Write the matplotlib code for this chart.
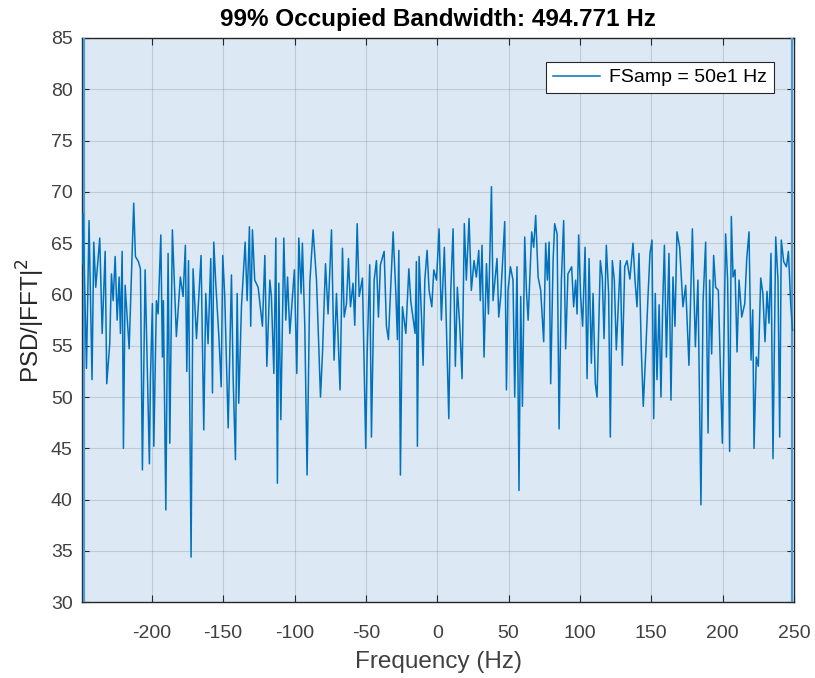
import matplotlib
matplotlib.use("Agg")
import matplotlib.pyplot as plt

plt.rcParams['font.family'] = ['Liberation Sans', 'DejaVu Sans']
plt.rcParams['axes.unicode_minus'] = False

# ---- data ----
freq = [
    -248.6, -248.2, -245.8, -244.0, -241.9, -240.7, -239.3, -236.5, -234.8, -232.7,
    -231.6, -229.5, -228.3, -227.1, -225.7, -224.3, -222.9, -222.0, -220.8, -219.9,
    -218.7, -215.9, -212.7, -211.5, -209.4, -208.0, -206.6, -204.7, -201.7, -201.0,
    -199.6, -198.6, -196.8, -195.6, -193.7, -192.6, -191.9, -190.2, -188.6, -187.4,
    -185.6, -183.9, -182.8, -180.0, -178.1, -176.5, -175.5, -174.3, -172.5, -171.1,
    -168.7, -165.5, -163.6,
    -162.2, -160.6, -158.7, -157.5, -156.6, -155.2, -152.9, -151.4, -150.3, -148.9,
    -146.5, -144.2, -143.0, -141.4, -140.2, -139.1, -137.2, -134.6, -133.2, -131.6,
    -130.7, -129.5, -127.9, -125.5, -122.5, -120.8, -119.4, -117.3, -116.2, -114.5,
    -113.1, -112.0, -111.0, -109.6, -107.5, -106.1, -104.9, -103.3, -100.1, -98.4,
    -97.0, -95.4, -94.5, -92.8, -91.2, -89.3, -87.0, -84.6, -81.8,
    -80.4, -78.3, -76.5, -74.1, -72.3, -70.6, -68.1, -66.4, -65.2, -63.6,
    -62.2, -60.8, -59.0, -57.8, -56.1, -54.7, -52.4, -50.1, -49.1, -47.3,
    -46.1, -44.2, -42.6, -41.2, -39.8, -37.2, -35.6, -34.2, -30.9, -29.0,
    -27.9, -26.9, -25.8, -24.4, -22.0, -19.9, -18.5, -15.5, -14.6, -13.9,
    -12.7, -11.1, -9.9, -8.7, -7.1, -5.7, -3.8, -2.4, -0.5, 1.3,
    2.9, 5.0, 8.1, 9.5, 11.1, 12.7, 14.1, 15.8, 17.4, 19.0,
    20.4, 22.3, 23.9, 25.8, 27.4, 29.1, 30.2, 31.4, 32.8, 34.5,
    35.9, 38.0, 39.1, 41.9, 43.1, 44.5, 47.3, 48.5, 49.6, 51.3,
    53.1, 54.3, 55.9, 57.3, 58.5, 59.7, 61.3, 62.5, 63.7, 66.2,
    67.6, 69.0, 70.7, 72.5, 74.6, 76.0, 77.2, 78.4, 79.5, 81.2,
    82.3, 84.0, 85.4, 87.0, 88.6,
    90.0, 91.6, 94.2, 95.6, 97.0, 98.0, 99.1, 100.5, 101.9, 103.6,
    105.0, 106.4, 108.0, 109.2, 110.8, 112.0, 114.3, 115.7, 116.9, 118.5,
    120.1, 121.3, 122.7, 124.1, 125.5, 128.3, 129.7, 131.4, 133.0, 135.0,
    137.2, 138.6, 140.0, 141.4, 143.0, 144.4, 146.0, 147.7, 149.1, 150.5,
    151.7, 152.8, 154.0, 155.5, 156.8, 158.0, 159.2, 160.6, 162.4, 163.8,
    165.2, 166.6, 168.0,
    169.9, 172.2, 174.1, 176.4, 178.8, 180.9, 182.7, 184.8, 186.3, 188.1,
    189.8, 190.9, 192.3, 193.7, 195.1, 197.0, 199.8, 202.1, 203.5, 204.9,
    206.1, 207.3, 208.7, 210.1, 211.5, 213.4, 215.5, 216.9, 218.5, 219.9,
    221.1, 222.0, 223.6, 225.0, 226.7, 228.2, 229.7, 231.1, 232.5, 233.9,
    235.3, 237.2, 238.8, 240.0, 241.1, 242.8, 244.7, 246.1, 247.7, 249.0,
]
psd = [
    63.0, 67.9, 52.8, 67.2, 51.7, 65.1, 60.7, 65.5, 56.2, 64.2,
    51.3, 55.2, 62.0, 59.4, 63.7, 57.5, 61.7, 56.2, 64.2, 45.0,
    60.9, 54.7, 68.9, 63.7, 63.2, 62.5, 42.9, 62.4, 43.5, 51.7,
    59.1, 45.2, 59.4, 58.1, 65.8, 53.9, 59.4, 39.0, 64.0, 45.5,
    66.3, 60.1, 55.9, 61.7, 59.8, 64.8, 52.5, 63.3, 34.4, 62.5,
    55.7, 63.8, 46.8,
    60.1, 55.2, 63.5, 50.4, 65.1, 61.1, 55.6, 51.0, 63.8, 59.8,
    47.0, 61.9, 51.7, 43.9, 60.1, 49.4, 58.8, 65.1, 59.4, 66.6,
    56.9, 66.3, 61.4, 60.7, 56.9, 63.8, 53.0, 61.4, 59.8, 52.3,
    65.5, 41.6, 61.1, 47.8, 65.5, 57.5, 61.7, 56.2, 62.4, 52.3,
    65.5, 60.1, 65.0, 56.9, 42.4, 61.1, 66.3, 61.4, 50.0,
    54.3, 63.0, 58.1, 66.3, 53.6, 60.1, 50.7, 64.5, 57.8, 59.1,
    63.5, 58.8, 61.1, 57.0, 66.9, 59.8, 61.6, 45.0, 54.3, 62.9,
    46.1, 61.4, 63.3, 57.8, 62.9, 64.2, 56.9, 55.6, 66.1, 60.1,
    55.6, 64.3, 42.4, 58.8, 56.2, 62.5, 59.3, 56.2, 63.2, 45.2,
    63.7, 58.1, 53.1, 61.4, 64.3, 60.4, 58.8, 62.4, 61.4, 66.4,
    57.5, 64.6, 47.9, 60.4, 66.4, 53.0, 60.7, 56.9, 51.8, 66.9,
    61.4, 67.4, 60.4, 63.3, 61.7, 64.3, 59.4, 64.8, 53.9, 63.0,
    58.1, 70.5, 59.4, 63.5, 57.8, 59.8, 67.1, 50.7, 60.4, 62.7,
    61.4, 50.0, 62.7, 40.9, 59.8, 49.1, 65.6, 60.4, 57.5, 66.1,
    64.6, 67.7, 61.7, 60.4, 55.4, 65.0, 61.4, 65.1, 51.3, 63.3,
    66.9, 65.9, 46.9, 61.4, 67.2,
    54.7, 62.0, 62.7, 58.8, 61.4, 58.1, 65.8, 59.8, 56.9, 64.6,
    51.8, 63.5, 53.3, 60.1, 51.3, 50.0, 63.3, 61.6, 55.7, 64.8,
    60.1, 46.1, 63.3, 61.4, 54.6, 63.3, 53.1, 62.7, 63.3, 61.5,
    65.0, 61.4, 58.8, 64.0, 54.7, 49.1, 54.0, 59.8, 64.0, 65.3,
    47.9, 60.1, 51.7, 59.0, 50.0, 59.0, 64.8, 53.9, 64.0, 49.7,
    61.7, 56.9, 66.1,
    64.6, 58.8, 60.9, 53.1, 66.4, 54.9, 61.4, 39.5, 59.4, 65.1,
    46.5, 61.4, 54.2, 63.8, 60.7, 60.4, 45.5, 65.9, 61.4, 44.7,
    67.6, 61.7, 62.4, 54.4, 61.4, 57.8, 59.1, 63.5, 66.1, 53.6,
    58.5, 45.0, 53.9, 53.0, 61.6, 60.1, 55.4, 60.3, 57.2, 64.0,
    44.0, 65.6, 61.4, 46.1, 65.3, 63.2, 62.7, 64.2, 59.1, 56.5,
]
obw_bounds = [-247.6, 248.6]
bandwidth = 494.771
legend_label = "FSamp = 50e1 Hz"
x_ticks = [-200, -150, -100, -50, 0, 50, 100, 150, 200, 250]
y_ticks = [30, 35, 40, 45, 50, 55, 60, 65, 70, 75, 80, 85]

fig = plt.figure(figsize=(8.15, 6.78), dpi=100)
ax = fig.add_axes([0.1012, 0.1117, 0.8730, 0.8323])

ax.set_xlim(-248.6, 250.0)
ax.set_ylim(30, 85)

# occupied-bandwidth shading and bounds
ax.axvspan(obw_bounds[0], obw_bounds[1], color='#dce9f5', zorder=0, lw=0)
for b in obw_bounds:
    ax.axvline(b, color='#4a9ad8', lw=1.6, zorder=3)

ax.plot(freq, psd, color='#0072BD', lw=1.1, label=legend_label, zorder=4)

ax.set_xticks(x_ticks)
ax.set_yticks(y_ticks)
ax.grid(True, color='#262626', alpha=0.15, lw=0.8)
ax.set_axisbelow(True)
ax.tick_params(direction='in', length=5, width=0.8, colors='#262626',
               labelsize=14, top=True, right=True, labelcolor='#404040')
ax.tick_params(axis='x', pad=16.5)
ax.tick_params(axis='y', pad=7)
for s in ax.spines.values():
    s.set_color('#262626')
    s.set_linewidth(1.0)

ax.set_xlabel('Frequency (Hz)', fontsize=17.5, color='#404040', labelpad=6)
ax.set_ylabel('PSD/|FFT|$^2$', fontsize=17.5, color='#262626', labelpad=2.5)
ax.set_title(f'99% Occupied Bandwidth: {bandwidth:.3f} Hz', fontsize=17.5,
             fontweight='bold', color='black', pad=8.5)

leg = ax.legend(loc='upper right', bbox_to_anchor=(0.972, 0.9575), fontsize=14,
                fancybox=False, framealpha=1, edgecolor='#262626',
                handlelength=2.4, handletextpad=0.5, borderpad=0.35,
                borderaxespad=0)
leg.get_frame().set_linewidth(0.8)

fig.savefig('out.png', dpi=100)
